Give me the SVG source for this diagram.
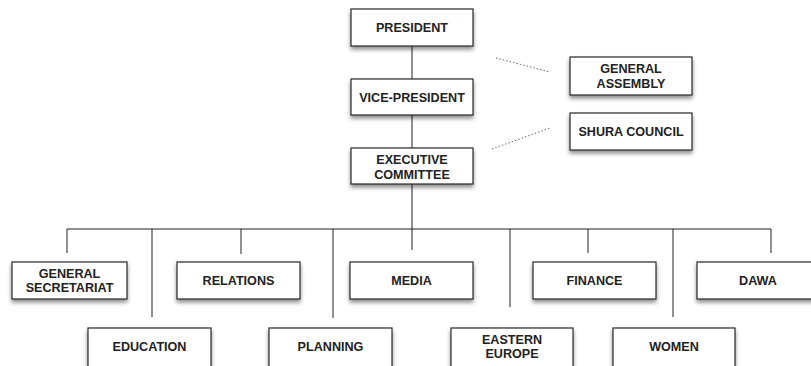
<svg xmlns="http://www.w3.org/2000/svg" width="811" height="366" viewBox="0 0 811 366">
<defs>
<filter id="sh" x="-20%" y="-30%" width="140%" height="170%">
<feGaussianBlur in="SourceAlpha" stdDeviation="2"/>
<feOffset dx="0" dy="3" result="b"/>
<feComponentTransfer><feFuncA type="linear" slope="0.45"/></feComponentTransfer>
<feMerge><feMergeNode/><feMergeNode in="SourceGraphic"/></feMerge>
</filter>
</defs>
<style>
.box{fill:#fff;stroke:#2a2a2a;stroke-width:1.2;filter:url(#sh)}
.t{font-family:"Liberation Sans",Arial,sans-serif;font-weight:bold;font-size:12.6px;fill:#222;text-anchor:middle}
.ln{stroke:#222;stroke-width:1;fill:none}
.dot{stroke:#666;stroke-width:1;stroke-dasharray:1.5 2;fill:none}
</style>
<rect width="811" height="366" fill="#fff"/>
<g id="connectors">
<line class="ln" x1="412" y1="46" x2="412" y2="79"/>
<line class="ln" x1="412" y1="115" x2="412" y2="148"/>
<line class="ln" x1="412" y1="184" x2="412" y2="229"/>
<line class="ln" x1="67" y1="229" x2="771" y2="229"/>
<line class="ln" x1="67" y1="229" x2="67" y2="253"/>
<line class="ln" x1="152" y1="229" x2="152" y2="317"/>
<line class="ln" x1="241" y1="229" x2="241" y2="254"/>
<line class="ln" x1="333" y1="229" x2="333" y2="318"/>
<line class="ln" x1="412" y1="229" x2="412" y2="250"/>
<line class="ln" x1="510" y1="229" x2="510" y2="307"/>
<line class="ln" x1="588" y1="229" x2="588" y2="253"/>
<line class="ln" x1="673" y1="229" x2="673" y2="317"/>
<line class="ln" x1="771" y1="229" x2="771" y2="253"/>
<line class="dot" x1="496" y1="58" x2="550" y2="72"/>
<line class="dot" x1="492" y1="149" x2="550" y2="128"/>
</g>
<g id="president"><rect class="box" x="351" y="9" width="122" height="37"/><text class="t" x="412" y="32">PRESIDENT</text></g>
<g id="vice-president"><rect class="box" x="351" y="79" width="122" height="36"/><text class="t" x="412" y="101.5">VICE-PRESIDENT</text></g>
<g id="executive-committee"><rect class="box" x="351" y="148" width="122" height="36"/><text class="t" x="412" y="163.5">EXECUTIVE</text><text class="t" x="412" y="178.5">COMMITTEE</text></g>
<g id="general-assembly"><rect class="box" x="570" y="57" width="122" height="38"/><text class="t" x="631" y="73">GENERAL</text><text class="t" x="631" y="88">ASSEMBLY</text></g>
<g id="shura-council"><rect class="box" x="570" y="113" width="122" height="37"/><text class="t" x="631" y="136">SHURA COUNCIL</text></g>
<g id="general-secretariat"><rect class="box" x="12" y="262" width="115" height="37"/><text class="t" x="69.5" y="277.5">GENERAL</text><text class="t" x="69.5" y="291.5">SECRETARIAT</text></g>
<g id="relations"><rect class="box" x="177" y="262" width="123" height="37"/><text class="t" x="238.5" y="285">RELATIONS</text></g>
<g id="media"><rect class="box" x="350" y="262" width="123" height="37"/><text class="t" x="411.5" y="285">MEDIA</text></g>
<g id="finance"><rect class="box" x="533" y="262" width="123" height="37"/><text class="t" x="594.5" y="285">FINANCE</text></g>
<g id="dawa"><rect class="box" x="697" y="262" width="123" height="37"/><text class="t" x="758" y="285">DAWA</text></g>
<g id="education"><rect class="box" x="88" y="328" width="123" height="40"/><text class="t" x="149.5" y="351">EDUCATION</text></g>
<g id="planning"><rect class="box" x="269" y="328" width="123" height="40"/><text class="t" x="330.5" y="351">PLANNING</text></g>
<g id="eastern-europe"><rect class="box" x="451" y="328" width="122" height="40"/><text class="t" x="512" y="344">EASTERN</text><text class="t" x="512" y="358">EUROPE</text></g>
<g id="women"><rect class="box" x="613" y="328" width="122" height="40"/><text class="t" x="674" y="351">WOMEN</text></g>
</svg>
